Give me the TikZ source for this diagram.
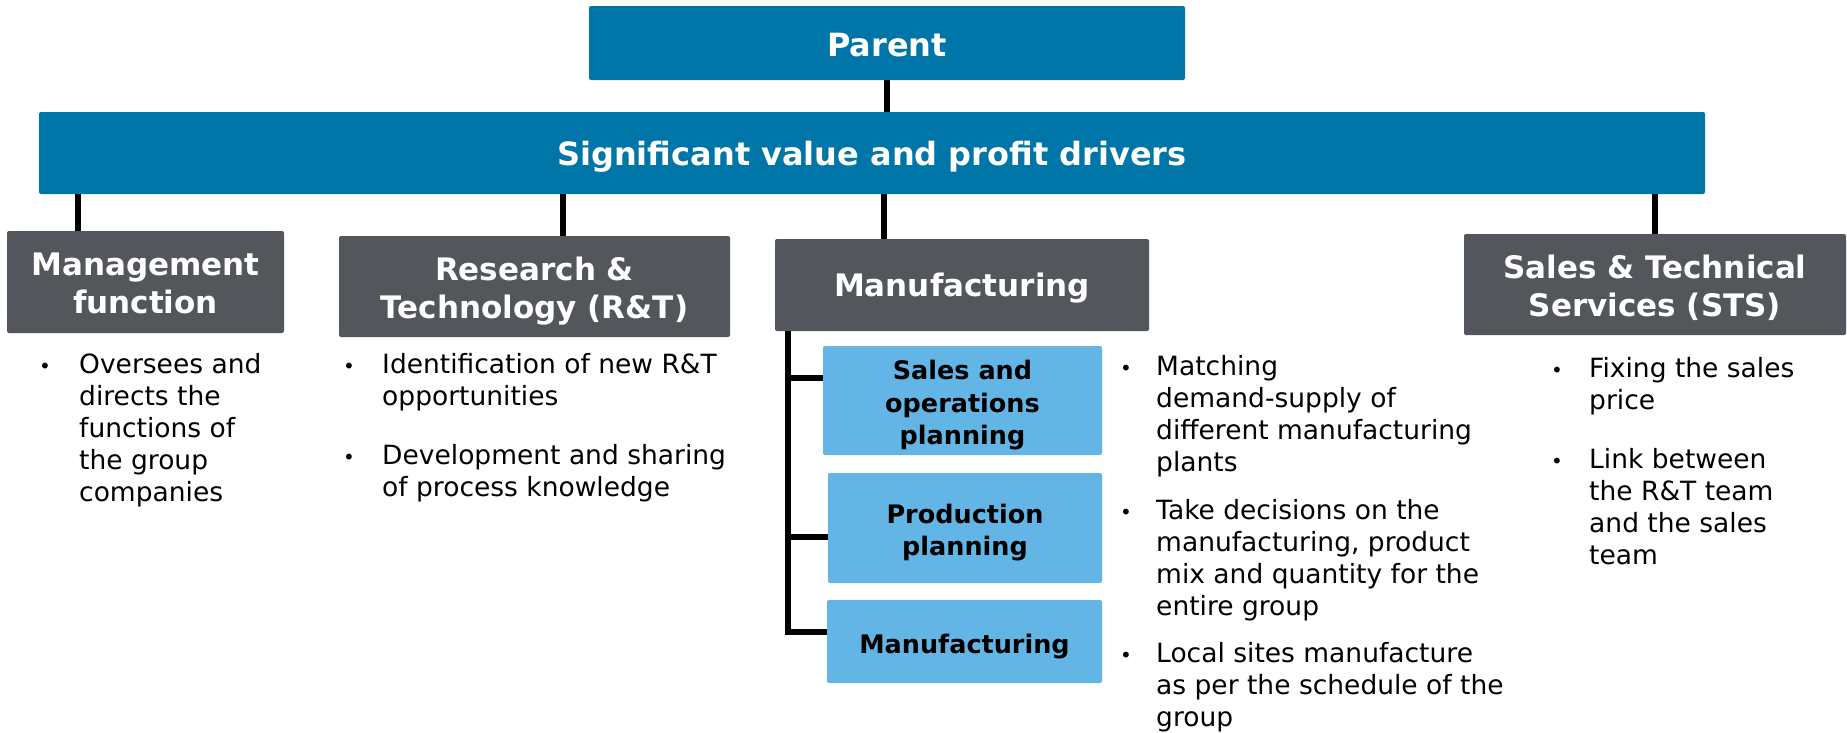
\documentclass[tikz,border=0pt]{standalone}
\usepackage{fontspec}
\setmainfont{DejaVu Sans}
\usetikzlibrary{calc}
\definecolor{dblue}{HTML}{0076A8}
\definecolor{dgray}{HTML}{53565A}
\definecolor{lblue}{HTML}{62B5E5}
% top-aligned rows for bullet paragraphs
\newcommand\rows[1]{\begin{tabular}[t]{@{}l@{}}#1\end{tabular}}
% centred rows for box titles, set a little below the optical centre
\newcommand\cell[2][5pt]{\raisebox{-#1}[\height][\depth]{\begin{tabular}{@{}c@{}}#2\end{tabular}}}
\begin{document}
\begin{tikzpicture}[x=1pt,y=-1pt,
  boxbase/.style={inner sep=0pt, rounded corners=2pt, align=center},
  topbox/.style={boxbase, fill=dblue, text=white, font=\fontsize{32}{38}\selectfont\bfseries},
  headbox/.style={boxbase, fill=dgray, text=white, font=\fontsize{31}{38}\selectfont\bfseries},
  subbox/.style={boxbase, fill=lblue, text=black, font=\fontsize{25.5}{32.5}\selectfont\bfseries},
  conn/.style={line width=5.5pt, black},
  bul/.style={inner sep=0pt, anchor=base, font=\fontsize{20}{24}\selectfont},
  btext/.style={inner sep=0pt, anchor=base west, font=\fontsize{26.5}{32}\selectfont}]
\useasboundingbox (0,0) rectangle (1847,732);

% top levels
\node[topbox, minimum width=596pt, minimum height=74pt] (parent) at (887,43) {\cell[6pt]{Parent}};
\node[topbox, minimum width=1666pt, minimum height=82pt] (drivers) at (872,153) {\cell{Significant value and profit drivers}};

% functions
\node[headbox, minimum width=277pt, minimum height=102pt] (mgmt) at (145.5,282) {\cell{Management\\function}};
\node[headbox, minimum width=391pt, minimum height=101pt] (rt) at (534.5,286.5) {\cell{Research \&\\Technology (R\&T)}};
\node[headbox, minimum width=374pt, minimum height=92pt] (mfg) at (962,285) {\cell[4pt]{Manufacturing}};
\node[headbox, minimum width=382pt, minimum height=101pt] (sts) at (1655,284.5) {\cell{Sales \& Technical\\Services (STS)}};

% manufacturing sub-functions
\node[subbox, minimum width=279pt, minimum height=109pt] (sop) at (962.5,400.5) {\cell{Sales and\\operations\\planning}};
\node[subbox, minimum width=274pt, minimum height=110pt] (pp) at (965,528) {\cell{Production\\planning}};
\node[subbox, minimum width=275pt, minimum height=83pt] (mfs) at (964.5,641.5) {\cell{Manufacturing}};

% connectors
\draw[conn] (parent.south) -- (parent.south |- drivers.north);
\path (mgmt.north west) ++(71,0) coordinate (mtop);
\path (rt.north west) ++(224,0) coordinate (rtop);
\path (mfg.north west) ++(109,0) coordinate (ftop);
\path (sts.north west) ++(191,0) coordinate (stop);
\foreach \c in {mtop,rtop,ftop,stop}
  \draw[conn] (\c) -- (\c |- drivers.south);

\coordinate (spine) at (788,635);
\coordinate (b1) at (0,378);
\coordinate (b2) at (0,537);
\coordinate (b3) at (0,632);
\draw[conn] (spine |- mfg.south) -- (spine);
\draw[conn] (spine |- b1) -- (sop.west |- b1);
\draw[conn] (spine |- b2) -- (pp.west |- b2);
\draw[conn] (spine |- b3) -- (mfs.west |- b3);

% descriptions
\node[bul] (mb1) at (45,373) {•};
\node[btext] (mt1) at (79,373) {\rows{Oversees and\\directs the\\functions of\\the group\\companies}};

\node[bul] (rb1) at (349,373) {•};
\node[btext] (rt1) at (382,373) {\rows{Identification of new R\&T\\opportunities}};
\node[bul] (rb2) at (349,464) {•};
\node[btext] (rt2) at (382,464) {\rows{Development and sharing\\of process knowledge}};

\node[bul] (fb1) at (1126,375) {•};
\node[btext] (ft1) at (1156,375) {\rows{Matching\\demand-supply of\\different manufacturing\\plants}};
\node[bul] (fb2) at (1126,519) {•};
\node[btext] (ft2) at (1156,519) {\rows{Take decisions on the\\manufacturing, product\\mix and quantity for the\\entire group}};
\node[bul] (fb3) at (1126,662) {•};
\node[btext] (ft3) at (1156,662) {\rows{Local sites manufacture\\as per the schedule of the\\group}};

\node[bul] (sb1) at (1557,377) {•};
\node[btext] (st1) at (1589,377) {\rows{Fixing the sales\\price}};
\node[bul] (sb2) at (1557,468) {•};
\node[btext] (st2) at (1589,468) {\rows{Link between\\the R\&T team\\and the sales\\team}};
\end{tikzpicture}
\end{document}
